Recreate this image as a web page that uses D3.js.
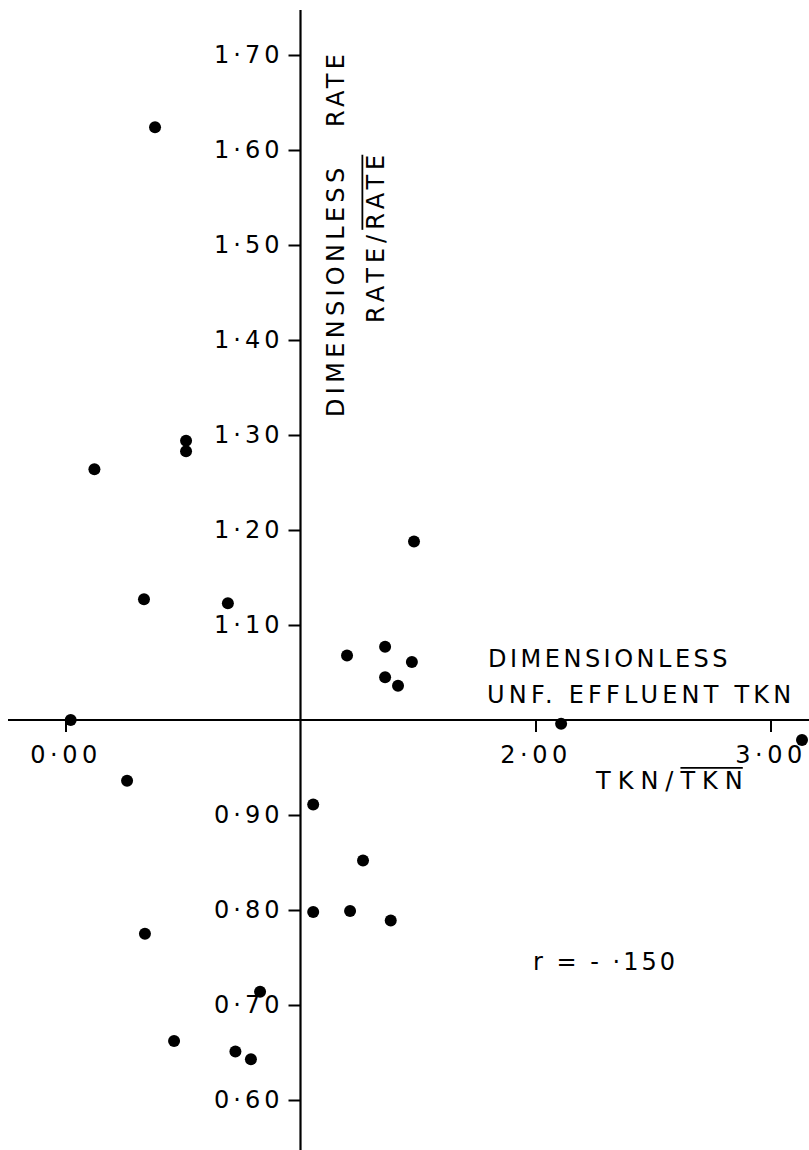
<!DOCTYPE html>
<html>
<head>
<meta charset="utf-8">
<script src="https://cdnjs.cloudflare.com/ajax/libs/d3/7.8.5/d3.min.js"></script>
<style>
  html, body { margin: 0; padding: 0; background: #fff; }
  svg { display: block; }
  text { font-family: "DejaVu Sans", sans-serif; fill: #000; }
</style>
</head>
<body>
<script>
// ---- data ----
const tknRatio = [0.381, 0.123, 0.513, 0.513, 0.334, 0.691, 1.483, 1.198, 1.360, 1.360, 1.415, 1.474,
                  0.022, 2.109, 3.134, 0.262, 1.054, 1.266, 1.054, 1.211, 1.384, 0.338, 0.828, 0.462, 0.723, 0.789];
const rateRatio = [1.624, 1.264, 1.294, 1.283, 1.127, 1.123, 1.188, 1.068, 1.077, 1.045, 1.036, 1.061,
                   1.000, 0.996, 0.979, 0.936, 0.911, 0.852, 0.798, 0.799, 0.789, 0.775, 0.714, 0.662, 0.651, 0.643];
const yTicks = [0.6, 0.7, 0.8, 0.9, 1.1, 1.2, 1.3, 1.4, 1.5, 1.6, 1.7];
const yTickLabels = ["0·60", "0·70", "0·80", "0·90", "1·10", "1·20", "1·30", "1·40", "1·50", "1·60", "1·70"];
const xTicks = [0, 2, 3];
const xTickLabels = ["0·00", "2·00", "3·00"];
const correlationText = "r = - ·150";

const W = 809, H = 1150;
const FS = 24;
const svg = d3.select("body").append("svg").attr("width", W).attr("height", H);

const x = d3.scaleLinear().domain([0, 3]).range([65.5, 770.5]);
const y = d3.scaleLinear().domain([0.6, 1.7]).range([1100, 55]);

const x0 = x(1), y0 = y(1);

// axes lines (crossing at 1,1)
svg.append("line").attr("x1", 8).attr("x2", W).attr("y1", y0).attr("y2", y0)
  .attr("stroke", "#000").attr("stroke-width", 2);
svg.append("line").attr("x1", x0).attr("x2", x0).attr("y1", 10).attr("y2", H)
  .attr("stroke", "#000").attr("stroke-width", 2.2);

// y ticks and labels
const yAxis = d3.axisLeft(y).tickValues(yTicks).tickSize(11).tickPadding(8)
  .tickFormat((d, i) => yTickLabels[i]);
const gy = svg.append("g").attr("transform", `translate(${x0},0)`).call(yAxis);
gy.select(".domain").remove();
gy.selectAll(".tick line").attr("stroke", "#000").attr("stroke-width", 2).attr("x2", 0).attr("x1", -12);
gy.selectAll(".tick text").style("font-size", FS + "px").style("letter-spacing", "4px")
  .attr("x", -17).attr("fill", "#000");

// x ticks and labels
const xAxis = d3.axisBottom(x).tickValues(xTicks).tickSize(12).tickPadding(14)
  .tickFormat((d, i) => xTickLabels[i]);
const gx = svg.append("g").attr("transform", `translate(0,${y0})`).call(xAxis);
gx.select(".domain").remove();
gx.selectAll(".tick line").attr("stroke", "#000").attr("stroke-width", 2);
gx.selectAll(".tick text").style("font-size", FS + "px").style("letter-spacing", "4.5px")
  .attr("fill", "#000");

// points
svg.append("g").selectAll("circle").data(tknRatio).join("circle")
  .attr("cx", (d) => x(d)).attr("cy", (d, i) => y(rateRatio[i])).attr("r", 6).attr("fill", "#000");

// helper: text with overlined segment
function overlined(g, parts, attrs) {
  const t = g.append("text").style("font-size", attrs.size + "px").style("letter-spacing", attrs.ls + "px");
  parts.forEach(p => t.append("tspan").text(p.t).attr("data-o", p.o ? 1 : 0));
  const node = t.node();
  let pos = 0;
  t.selectAll("tspan").each(function () {
    const len = this.textContent.length;
    if (this.getAttribute("data-o") === "1") {
      const start = node.getStartPositionOfChar(pos).x;
      const endBox = node.getExtentOfChar(pos + len - 1);
      g.append("line").attr("x1", start).attr("x2", endBox.x + endBox.width - attrs.ls)
        .attr("y1", -attrs.size * 0.88).attr("y2", -attrs.size * 0.88)
        .attr("stroke", "#000").attr("stroke-width", 1.8);
    }
    pos += len;
  });
  return t;
}

// vertical axis titles
const vt1 = svg.append("g").attr("transform", `translate(${x0 + 43},417) rotate(-90)`);
vt1.append("text").text("DIMENSIONLESS").style("font-size", FS + "px").style("letter-spacing", "4.3px");
const vt1b = svg.append("g").attr("transform", `translate(${x0 + 43},127) rotate(-90)`);
vt1b.append("text").text("RATE").style("font-size", FS + "px").style("letter-spacing", "4.3px");
const vt2 = svg.append("g").attr("transform", `translate(${x0 + 83},323) rotate(-90)`);
overlined(vt2, [{t: "RATE/", o: false}, {t: "RATE", o: true}], {size: FS, ls: 5});

// horizontal axis titles
svg.append("text").attr("x", 488).attr("y", 667).text("DIMENSIONLESS")
  .style("font-size", FS + "px").style("letter-spacing", "3.5px");
svg.append("text").attr("x", 487).attr("y", 703).text("UNF. EFFLUENT TKN")
  .style("font-size", FS + "px").style("letter-spacing", "4.2px");
const ht = svg.append("g").attr("transform", "translate(596,789)");
overlined(ht, [{t: "TKN/", o: false}, {t: "TKN", o: true}], {size: FS, ls: 7});

// correlation
svg.append("text").attr("x", 533).attr("y", 970).text(correlationText)
  .style("font-size", FS + "px").style("letter-spacing", "3px");
</script>
</body>
</html>
